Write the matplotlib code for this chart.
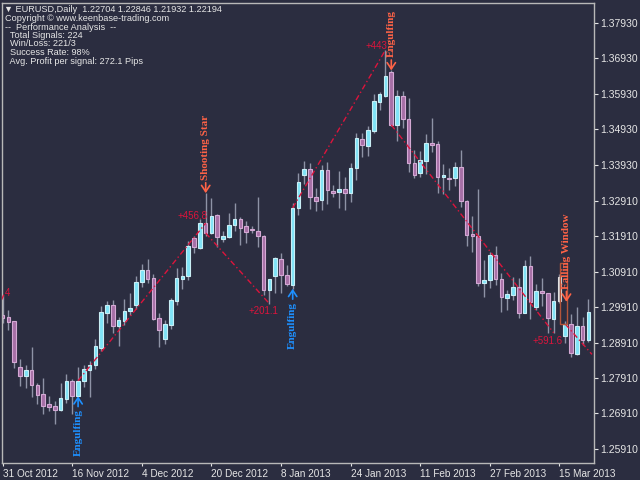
import numpy as np
import matplotlib
matplotlib.use('Agg')
from matplotlib import pyplot as plt
from matplotlib.patches import Rectangle

# Daily EURUSD candles (bar index 0 = 31 Oct 2012)
opens = [1.29693, 1.29617, 1.29524, 1.28219, 1.27974, 1.28124, 1.27720, 1.27459, 1.27177, 1.27109,
         1.27016, 1.27318, 1.27833, 1.27411, 1.27813, 1.28143, 1.28265, 1.28763, 1.29740, 1.29975,
         1.29369, 1.29524, 1.29792, 1.29961, 1.30610, 1.30969, 1.30728, 1.29600, 1.28998, 1.29411,
         1.30088, 1.30708, 1.30773, 1.31855, 1.31590, 1.32277, 1.31996, 1.32511, 1.31827, 1.31883,
         1.32229, 1.32390, 1.32201, 1.32108, 1.32069, 1.31920, 1.30378, 1.30793, 1.31263, 1.30821,
         1.30539, 1.32699, 1.33639, 1.33800, 1.33027, 1.32934, 1.33780, 1.33188, 1.33168, 1.33244,
         1.33123, 1.33828, 1.34645, 1.34464, 1.34879, 1.35704, 1.35873, 1.36542, 1.35056, 1.35865,
         1.35208, 1.33969, 1.33704, 1.34042, 1.34540, 1.34512, 1.33591, 1.33554, 1.33546, 1.33873,
         1.32906, 1.31968, 1.31928, 1.30586, 1.30680, 1.31384, 1.30699, 1.30163, 1.30257, 1.30469,
         1.29750, 1.31074, 1.29910, 1.30370, 1.30305, 1.29580, 1.30088, 1.29094, 1.29431, 1.28594,
         1.29378, 1.28989]
highs = [1.30257, 1.29834, 1.29524, 1.28445, 1.28284, 1.28772, 1.27768, 1.27909, 1.27391, 1.27270,
         1.27768, 1.28030, 1.27890, 1.28228, 1.28284, 1.28377, 1.29009, 1.29927, 1.30088, 1.30116,
         1.29623, 1.30144, 1.30304, 1.30779, 1.31111, 1.31277, 1.30831, 1.29741, 1.29545, 1.30172,
         1.30998, 1.31031, 1.31779, 1.31920, 1.32390, 1.33123, 1.32982, 1.32539, 1.32046, 1.32559,
         1.32858, 1.32446, 1.32350, 1.32201, 1.33027, 1.31950, 1.30700, 1.31336, 1.31449, 1.31102,
         1.32841, 1.33687, 1.34034, 1.33969, 1.33281, 1.33921, 1.34014, 1.33357, 1.33752, 1.33591,
         1.33969, 1.34831, 1.34814, 1.35020, 1.35912, 1.35987, 1.37161, 1.36584, 1.36020, 1.36000,
         1.35808, 1.34329, 1.34315, 1.34803, 1.35236, 1.34605, 1.33958, 1.33828, 1.33992, 1.34343,
         1.32920, 1.32491, 1.33236, 1.31243, 1.31477, 1.31638, 1.30877, 1.30398, 1.30764, 1.30723,
         1.31243, 1.31356, 1.30567, 1.30718, 1.30314, 1.30327, 1.30849, 1.29504, 1.29707, 1.29919,
         1.29618, 1.30125]
lows = [1.29467, 1.29270, 1.28191, 1.27672, 1.27626, 1.27363, 1.27185, 1.26895, 1.26968, 1.26613,
        1.26988, 1.27205, 1.26903, 1.27397, 1.27664, 1.27363, 1.28171, 1.28679, 1.29459, 1.29177,
        1.28800, 1.29397, 1.29679, 1.29868, 1.30483, 1.30588, 1.29545, 1.28783, 1.28870, 1.29279,
        1.29961, 1.30426, 1.30660, 1.31432, 1.31545, 1.31920, 1.31976, 1.31601, 1.31759, 1.31855,
        1.32069, 1.31666, 1.31731, 1.31996, 1.31618, 1.30257, 1.30003, 1.30304, 1.30320, 1.30511,
        1.30426, 1.32511, 1.33385, 1.32666, 1.32618, 1.32652, 1.32821, 1.33010, 1.32700, 1.32652,
        1.32886, 1.33498, 1.34154, 1.34174, 1.34831, 1.35470, 1.35845, 1.35019, 1.34605, 1.34962,
        1.33724, 1.33546, 1.33574, 1.33667, 1.34295, 1.33131, 1.33094, 1.33215, 1.33329, 1.32745,
        1.31638, 1.31460, 1.30511, 1.30192, 1.30436, 1.30539, 1.29778, 1.29834, 1.30116, 1.29609,
        1.29741, 1.29575, 1.29814, 1.29938, 1.29185, 1.29185, 1.30020, 1.28897, 1.28510, 1.28566,
        1.28848, 1.28932]
closes = [1.29600, 1.29476, 1.28349, 1.27974, 1.28124, 1.27720, 1.27439, 1.27109, 1.27081, 1.27016,
          1.27346, 1.27833, 1.27411, 1.27833, 1.28163, 1.28284, 1.28800, 1.29758, 1.29975, 1.29374,
          1.29538, 1.29806, 1.29890, 1.30624, 1.30969, 1.30714, 1.29575, 1.29270, 1.29431, 1.30116,
          1.30728, 1.30793, 1.31638, 1.31618, 1.32277, 1.31996, 1.32483, 1.31883, 1.31920, 1.32229,
          1.32390, 1.32153, 1.32014, 1.32075, 1.31920, 1.30378, 1.30688, 1.31280, 1.30821, 1.30567,
          1.32708, 1.33450, 1.33800, 1.33010, 1.32914, 1.33780, 1.33216, 1.33123, 1.33244, 1.33123,
          1.33845, 1.34690, 1.34484, 1.34907, 1.35724, 1.35912, 1.36437, 1.35047, 1.35865, 1.35208,
          1.33977, 1.33639, 1.34062, 1.34549, 1.34492, 1.33591, 1.33631, 1.33517, 1.33873, 1.32906,
          1.31948, 1.31928, 1.30586, 1.30680, 1.31384, 1.30699, 1.30201, 1.30279, 1.30469, 1.29750,
          1.31074, 1.30054, 1.30370, 1.30305, 1.29600, 1.30088, 1.30765, 1.29431, 1.28603, 1.29378,
          1.28989, 1.29767]

date_pos = [0, 12, 24, 36, 48, 60, 72, 84, 96]
date_labels = ['31 Oct 2012', '16 Nov 2012', '4 Dec 2012', '20 Dec 2012', '8 Jan 2013',
               '24 Jan 2013', '11 Feb 2013', '27 Feb 2013', '15 Mar 2013']
price_ticks = [1.37930, 1.36930, 1.35930, 1.34930, 1.33930, 1.32910, 1.31910,
               1.30910, 1.29910, 1.28910, 1.27910, 1.26910, 1.25910]

# trade lines: entry bar/price -> exit bar/price, with profit text
trade_x0 = [-0.2, 13, 35, 50, 67, 97]
trade_y0 = [1.30116, 1.27833, 1.31996, 1.32708, 1.35047, 1.29431]
trade_x1 = [0.35, 35, 46, 66, 95, 101.6]
trade_y1 = [1.30314, 1.32277, 1.30003, 1.37161, 1.29185, 1.28576]
trade_text = ['4', '+456.8', '+201.1', '+443', '+591.6', '']
text_x = [0.35, 35.4, 47.5, 66.3, 96.6, 0]
text_y = [1.30314, 1.32483, 1.29806, 1.37273, 1.28940, 0]

# pattern signals
sig_bar = [13, 35, 50, 67, 97.2]
sig_price = [1.27397, 1.33123, 1.30426, 1.36584, 1.30059]
sig_name = ['Engulfing', 'Shooting Star', 'Engulfing', 'Engulfing', 'Falling Window']
sig_buy = [True, False, True, False, False]

header = ['\u25bc EURUSD,Daily  1.22704 1.22846 1.21932 1.22194',
          'Copyright \u00a9 www.keenbase-trading.com',
          '--  Performance Analysis  --',
          '  Total Signals: 224',
          '  Win/Loss: 221/3',
          '  Success Rate: 98%',
          '  Avg. Profit per signal: 272.1 Pips']

bg = '#2b2d40'
fg = '#e6e6e6'
bull_face, bull_edge = '#7fe3f7', '#c9eef5'
bear_face, bear_edge = '#a66fa6', '#d4a9d4'
wick_col = '#8e93a6'
profit_col = '#dc143c'
sell_col = '#ff6347'
buy_col = '#1e90ff'
sans = ['Liberation Sans', 'DejaVu Sans']
serif = ['Liberation Serif', 'DejaVu Serif']

W, H = 640, 480
fig = plt.figure(figsize=(6.4, 4.8), dpi=100, facecolor=bg)
ax = fig.add_axes([2 / W, 17 / H, 592 / W, 460 / H], facecolor=bg)

o = np.array(opens)
h = np.array(highs)
l = np.array(lows)
c = np.array(closes)
x = np.arange(len(o))

ax.vlines(x, l, h, color=wick_col, linewidth=1, zorder=1)
bull = c >= o
face = np.where(bull, bull_face, bear_face).astype(object)
edge = np.where(bull, bull_edge, bear_edge).astype(object)
face[96] = '#c8ccd4'   # falling window bar drawn highlighted
edge[96] = '#e0e0e0'
bottom = np.minimum(o, c)
height = np.maximum(np.abs(c - o), 0.00012)
ax.bar(x, height, bottom=bottom, width=0.62, color=list(face), edgecolor=list(edge),
       linewidth=0.8, zorder=2)

for i in range(len(trade_x0)):
    ax.plot([trade_x0[i], trade_x1[i]], [trade_y0[i], trade_y1[i]], color=profit_col,
            linewidth=1, linestyle=(0, (4, 2, 1, 2)), zorder=3)
    if trade_text[i]:
        ha = 'left' if trade_text[i] == '4' else 'right'
        ax.text(text_x[i], text_y[i], trade_text[i], color=profit_col, fontsize=7,
                ha=ha, va='center', family=sans, zorder=4)

# falling window box
ax.add_patch(Rectangle((96.1, 1.29431), 1.25, 1.31144 - 1.29431, fill=False,
                       edgecolor='#b4553a', linewidth=1, zorder=3))

arrow = dict(arrowstyle='->, head_length=0.45, head_width=0.3', lw=1.2, shrinkA=0, shrinkB=0)
for b, p, name, buy in zip(sig_bar, sig_price, sig_name, sig_buy):
    col = buy_col if buy else sell_col
    sgn = -1 if buy else 1
    ax.annotate('', xy=(b, p), xytext=(0, sgn * 7.5), textcoords='offset points',
                arrowprops=dict(arrow, color=col), zorder=4)
    ax.annotate(name, (b, p), xytext=(0, sgn * 9.5), textcoords='offset points',
                rotation=90, color=col, fontsize=8, fontweight='bold', ha='center',
                va='top' if buy else 'bottom', family=serif, zorder=4)

ax.set_xlim(-0.12, 101.95)
ax.set_ylim(1.25513, 1.38485)

ax.yaxis.tick_right()
ax.set_yticks(price_ticks)
ax.set_yticklabels(['%.5f' % v for v in price_ticks])
ax.set_xticks(date_pos)
ax.set_xticklabels(date_labels)
for lbl in ax.get_xticklabels():
    lbl.set_ha('left')
ax.tick_params(axis='y', colors=fg, labelsize=7.5, length=3, width=0.8, pad=1.5)
ax.tick_params(axis='x', colors=fg, labelsize=7.2, length=2, width=0.8, pad=2)
for lbl in ax.get_xticklabels() + ax.get_yticklabels():
    lbl.set_family(sans)
for s in ax.spines.values():
    s.set_color('#b8b8b8')
    s.set_linewidth(1)

header_y = [9, 18.3, 27.3, 35.5, 44, 52.7, 61.5]
header_x = [4, 5, 5, 5, 5, 5, 5]
for txt, hx, hy in zip(header, header_x, header_y):
    fig.text(hx / W, 1 - hy / H, txt, color=fg, fontsize=6.6, ha='left', va='center',
             family=sans)

fig.savefig('out.png', dpi=100, facecolor=bg)
